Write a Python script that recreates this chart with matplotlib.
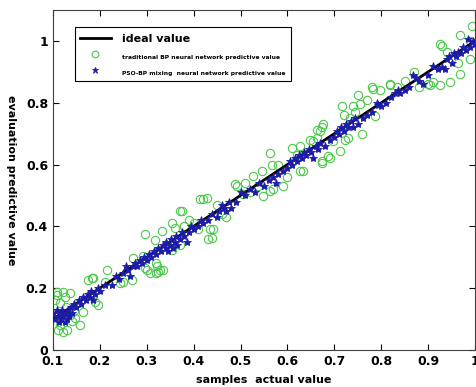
import numpy as np
import matplotlib.pyplot as plt

# ideal line
ideal_x = [0.1, 1.0]
ideal_y = [0.1, 1.0]

# traditional BP network predictions (green circles)
bp_x = [0.108, 0.111, 0.115, 0.121, 0.130, 0.158, 0.147, 0.136, 0.164, 0.108, 0.121, 0.136,
        0.126, 0.151, 0.179, 0.190, 0.196, 0.175, 0.183, 0.211, 0.243, 0.268, 0.270, 0.292,
        0.300, 0.320, 0.320, 0.108, 0.115, 0.185, 0.145, 0.249, 0.215, 0.105, 0.128, 0.140,
        0.296, 0.322, 0.324, 0.335, 0.307, 0.328, 0.317, 0.371, 0.354, 0.296, 0.332, 0.354,
        0.360, 0.371, 0.413, 0.428, 0.435, 0.430, 0.439, 0.375, 0.38, 0.39, 0.40, 0.41,
        0.420, 0.441, 0.46, 0.47, 0.45, 0.488, 0.492, 0.505, 0.510, 0.526, 0.537, 0.546,
        0.548, 0.563, 0.569, 0.567, 0.563, 0.590, 0.610, 0.627, 0.627, 0.633, 0.648, 0.663,
        0.674, 0.686, 0.674, 0.654, 0.663, 0.669, 0.676, 0.673, 0.690, 0.697, 0.712, 0.716,
        0.720, 0.722, 0.729, 0.733, 0.740, 0.744, 0.750, 0.755, 0.759, 0.770, 0.780, 0.786,
        0.797, 0.782, 0.818, 0.819, 0.833, 0.85, 0.87, 0.88, 0.900, 0.904, 0.910, 0.925,
        0.925, 0.930, 0.940, 0.946, 0.964, 0.968, 0.968, 0.989, 0.990, 0.993, 0.58, 0.60,
        0.52, 0.62]
bp_y = [0.106, 0.064, 0.080, 0.058, 0.064, 0.080, 0.103, 0.113, 0.122, 0.187, 0.187, 0.183,
        0.170, 0.151, 0.177, 0.154, 0.145, 0.225, 0.232, 0.219, 0.215, 0.225, 0.296, 0.305,
        0.257, 0.248, 0.280, 0.177, 0.151, 0.232, 0.125, 0.219, 0.257, 0.160, 0.140, 0.092,
        0.264, 0.273, 0.251, 0.257, 0.250, 0.257, 0.354, 0.338, 0.322, 0.376, 0.386, 0.410,
        0.396, 0.450, 0.489, 0.492, 0.392, 0.360, 0.363, 0.450, 0.40, 0.42, 0.41, 0.39,
        0.489, 0.392, 0.44, 0.43, 0.47, 0.537, 0.530, 0.505, 0.540, 0.563, 0.530, 0.580,
        0.498, 0.514, 0.520, 0.600, 0.637, 0.530, 0.653, 0.660, 0.580, 0.580, 0.680, 0.713,
        0.723, 0.627, 0.610, 0.675, 0.685, 0.707, 0.730, 0.605, 0.620, 0.675, 0.643, 0.788,
        0.760, 0.680, 0.685, 0.750, 0.790, 0.770, 0.826, 0.797, 0.700, 0.810, 0.850, 0.756,
        0.842, 0.846, 0.860, 0.858, 0.850, 0.87, 0.90, 0.85, 0.862, 0.858, 0.868, 0.858,
        0.990, 0.985, 0.965, 0.868, 0.930, 0.893, 1.020, 1.000, 0.940, 1.050, 0.60, 0.56,
        0.51, 0.63]

# PSO-BP network predictions (blue stars)
pso_x = [0.100, 0.105, 0.108, 0.110, 0.112, 0.115, 0.118, 0.120, 0.122, 0.125, 0.127, 0.130,
         0.132, 0.135, 0.138, 0.140, 0.145, 0.150, 0.155, 0.160, 0.165, 0.170, 0.175, 0.180,
         0.182, 0.185, 0.190, 0.195, 0.200, 0.210, 0.225, 0.235, 0.240, 0.250, 0.255, 0.260,
         0.265, 0.270, 0.275, 0.280, 0.285, 0.290, 0.295, 0.300, 0.305, 0.310, 0.315, 0.320,
         0.325, 0.330, 0.335, 0.340, 0.342, 0.345, 0.350, 0.352, 0.355, 0.360, 0.362, 0.365,
         0.370, 0.375, 0.380, 0.385, 0.390, 0.395, 0.400, 0.410, 0.415, 0.420, 0.430, 0.440,
         0.450, 0.455, 0.460, 0.465, 0.470, 0.475, 0.480, 0.490, 0.500, 0.510, 0.520, 0.530,
         0.540, 0.550, 0.560, 0.570, 0.575, 0.580, 0.590, 0.600, 0.605, 0.610, 0.615, 0.620,
         0.625, 0.630, 0.635, 0.640, 0.645, 0.650, 0.655, 0.660, 0.665, 0.670, 0.680, 0.690,
         0.700, 0.705, 0.710, 0.715, 0.720, 0.725, 0.730, 0.735, 0.740, 0.745, 0.750, 0.760,
         0.770, 0.780, 0.790, 0.793, 0.800, 0.810, 0.820, 0.829, 0.835, 0.840, 0.850, 0.860,
         0.868, 0.875, 0.880, 0.890, 0.900, 0.910, 0.920, 0.930, 0.935, 0.940, 0.945, 0.950,
         0.955, 0.960, 0.964, 0.970, 0.975, 0.980, 0.985, 0.990, 0.995, 1.000]
pso_y = [0.120, 0.100, 0.130, 0.110, 0.090, 0.120, 0.100, 0.130, 0.110, 0.090, 0.120, 0.100,
         0.130, 0.110, 0.140, 0.120, 0.150, 0.140, 0.160, 0.150, 0.170, 0.160, 0.180, 0.170,
         0.190, 0.160, 0.180, 0.200, 0.190, 0.210, 0.210, 0.240, 0.230, 0.250, 0.270, 0.260,
         0.240, 0.270, 0.280, 0.270, 0.290, 0.280, 0.300, 0.290, 0.310, 0.300, 0.320, 0.310,
         0.330, 0.320, 0.340, 0.330, 0.350, 0.320, 0.340, 0.360, 0.330, 0.350, 0.370, 0.340,
         0.360, 0.380, 0.370, 0.350, 0.380, 0.400, 0.390, 0.400, 0.420, 0.410, 0.420, 0.440,
         0.430, 0.450, 0.470, 0.460, 0.450, 0.480, 0.460, 0.480, 0.510, 0.500, 0.520, 0.510,
         0.540, 0.530, 0.550, 0.560, 0.540, 0.570, 0.580, 0.590, 0.610, 0.600, 0.620, 0.610,
         0.630, 0.620, 0.640, 0.630, 0.650, 0.640, 0.620, 0.660, 0.650, 0.670, 0.660, 0.680,
         0.690, 0.710, 0.700, 0.720, 0.710, 0.730, 0.720, 0.740, 0.720, 0.750, 0.730, 0.750,
         0.760, 0.770, 0.800, 0.794, 0.790, 0.800, 0.820, 0.830, 0.840, 0.830, 0.840, 0.850,
         0.890, 0.880, 0.870, 0.860, 0.890, 0.920, 0.910, 0.916, 0.910, 0.940, 0.950, 0.930,
         0.960, 0.950, 0.965, 0.960, 0.980, 0.970, 1.006, 0.980, 1.000, 0.990]

fig = plt.figure(figsize=(4.77, 3.87), dpi=100)
ax = fig.add_axes([0.111, 0.096, 0.885, 0.878])

ax.plot(ideal_x, ideal_y, color='black', linewidth=2, label='ideal value', zorder=3)
ax.plot(bp_x, bp_y, 'o', markerfacecolor='none', markeredgecolor='#4cc84c',
        markersize=6, markeredgewidth=0.8,
        label='traditional BP neural network predictive value', zorder=2)
ax.plot(pso_x, pso_y, '*', color='#1c1ca8', markersize=6, markeredgewidth=0.6,
        label='PSO-BP mixing  neural network predictive value', zorder=4)

ax.set_xlim(0.1, 1.0)
ax.set_ylim(0, 1.1)
ax.set_xticks(np.arange(0.1, 1.01, 0.1))
ax.set_xticklabels(['0.1', '0.2', '0.3', '0.4', '0.5', '0.6', '0.7', '0.8', '0.9', '1'])
ax.set_yticks([0, 0.2, 0.4, 0.6, 0.8, 1.0])
ax.set_yticklabels(['0', '0.2', '0.4', '0.6', '0.8', '1'])
ax.tick_params(direction='in', top=True, right=True, length=4, width=0.8,
               labelsize=9)
for lab in ax.get_xticklabels() + ax.get_yticklabels():
    lab.set_fontweight('bold')
for s in ax.spines.values():
    s.set_linewidth(0.8)
    s.set_color('#404040')

ax.set_xlabel('samples  actual value', fontsize=8, fontweight='bold', labelpad=5)
ax.set_ylabel('evaluation predictive value', fontsize=8, fontweight='bold',
              rotation=-90, labelpad=14)

leg = ax.legend(loc='upper left', bbox_to_anchor=(0.035, 0.97), fancybox=False,
                edgecolor='black', framealpha=1, handlelength=2.2,
                borderpad=0.4, labelspacing=0.35, markerscale=0.8)
leg.get_frame().set_linewidth(0.8)
texts = leg.get_texts()
texts[0].set_fontsize(8)
texts[0].set_fontweight('bold')
for t in texts[1:]:
    t.set_fontsize(4.3)
    t.set_fontweight('bold')

fig.savefig('out.png', dpi=100)
